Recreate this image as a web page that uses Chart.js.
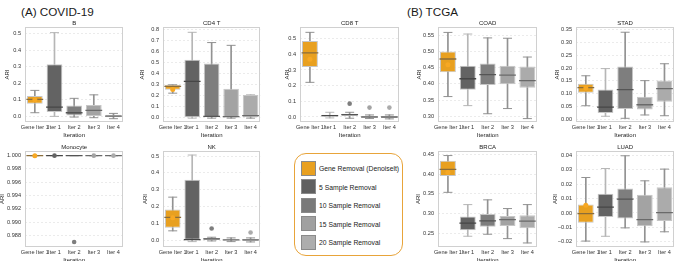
<!DOCTYPE html>
<html><head><meta charset="utf-8">
<script src="https://cdn.jsdelivr.net/npm/chart.js@4.4.0/dist/chart.umd.min.js"></script>
<style>
html,body{margin:0;padding:0;background:#fff}
body{width:685px;height:261px;overflow:hidden;position:relative;font-family:"Liberation Sans",Arial,sans-serif}
.hd{position:absolute;font-size:11.7px;line-height:1;color:#1a1a1a;white-space:nowrap}
#legend{position:absolute;left:294px;top:153px;width:109px;height:103px;border:1.3px solid #E8A43A;border-radius:12px;box-sizing:border-box}
.li{position:absolute;left:6px;height:16px;font-size:6.8px;color:#222;white-space:nowrap}
.sw{position:absolute;left:0;top:0;width:15px;height:15px;border:0.8px solid #8a8a8a;box-sizing:border-box}
.lt{position:absolute;left:18px;top:4.5px;line-height:7px}
</style></head>
<body>
<div class="hd" style="left:21px;top:6px">(A) COVID-19</div>
<div class="hd" style="left:407px;top:6px">(B) TCGA</div>
<div id="legend"></div>
<script>
// ---------- data ----------
const categories = ['Gene Iter 1', 'Iter 1', 'Iter 2', 'Iter 3', 'Iter 4'];
const legendLabels = ['Gene Removal (Denoiselt)', '5 Sample Removal', '10 Sample Removal', '15 Sample Removal', '20 Sample Removal'];

// B
const B_low  = [0.022, 0.000, -0.004, -0.008, -0.014];
const B_q1   = [0.077, 0.026, 0.006, 0.000, -0.006];
const B_med  = [0.103, 0.056, 0.022, 0.036, 0.002];
const B_q3   = [0.123, 0.315, 0.065, 0.069, 0.010];
const B_high = [0.157, 0.506, 0.109, 0.130, 0.018];
const B_mean = [0.100, null, null, null, null];
const B_out  = [];
const B_ticks = ['0.0', '0.1', '0.2', '0.3', '0.4', '0.5'];

// CD4 T
const CD4_low  = [0.222, -0.004, -0.004, -0.004, -0.004];
const CD4_q1   = [0.254, 0.004, 0.000, 0.000, 0.000];
const CD4_med  = [0.284, 0.329, 0.012, 0.009, 0.018];
const CD4_q3   = [0.298, 0.525, 0.490, 0.263, 0.205];
const CD4_high = [0.298, 0.773, 0.680, 0.655, 0.205];
const CD4_mean = [0.255, null, null, null, null];
const CD4_out  = [];
const CD4_ticks = ['0.0', '0.1', '0.2', '0.3', '0.4', '0.5', '0.6', '0.7', '0.8'];

// CD8 T
const CD8_low  = [0.221, -0.006, -0.008, -0.010, -0.012];
const CD8_q1   = [0.319, 0.000, 0.006, -0.004, -0.006];
const CD8_med  = [0.409, 0.009, 0.015, 0.000, 0.000];
const CD8_q3   = [0.485, 0.015, 0.021, 0.006, 0.006];
const CD8_high = [0.540, 0.030, 0.030, 0.013, 0.013];
const CD8_mean = [0.368, null, null, null, null];
const CD8_out  = [['Iter 2', 0.085], ['Iter 3', 0.060], ['Iter 4', 0.060]];
const CD8_ticks = ['0.0', '0.1', '0.2', '0.3', '0.4', '0.5'];

// Monocyte
const MONO_low  = [1.000, 1.000, 1.000, 1.000, 1.000];
const MONO_q1   = [1.000, 1.000, 1.000, 1.000, 1.000];
const MONO_med  = [1.000, 1.000, 1.000, 1.000, 1.000];
const MONO_q3   = [1.000, 1.000, 1.000, 1.000, 1.000];
const MONO_high = [1.000, 1.000, 1.000, 1.000, 1.000];
const MONO_mean = [1.000, null, null, null, null];
const MONO_out  = [['Iter 1', 1.000], ['Iter 2', 0.9870], ['Iter 3', 1.000], ['Iter 4', 1.000]];
const MONO_ticks = ['0.988', '0.990', '0.992', '0.994', '0.996', '0.998', '1.000'];

// NK
const NK_low  = [0.056, -0.008, -0.004, -0.008, -0.010];
const NK_q1   = [0.074, 0.000, 0.002, -0.002, -0.004];
const NK_med  = [0.136, 0.004, 0.008, 0.002, 0.002];
const NK_q3   = [0.182, 0.360, 0.014, 0.006, 0.008];
const NK_high = [0.256, 0.506, 0.018, 0.014, 0.014];
const NK_mean = [0.134, null, null, null, null];
const NK_out  = [['Iter 2', 0.070], ['Iter 4', 0.046]];
const NK_ticks = ['0.0', '0.1', '0.2', '0.3', '0.4', '0.5'];

// COAD
const COAD_low  = [0.361, 0.333, 0.308, 0.324, 0.293];
const COAD_q1   = [0.436, 0.382, 0.397, 0.399, 0.388];
const COAD_med  = [0.477, 0.416, 0.429, 0.427, 0.410];
const COAD_q3   = [0.500, 0.456, 0.463, 0.456, 0.454];
const COAD_high = [0.559, 0.554, 0.542, 0.541, 0.483];
const COAD_mean = [0.459, null, null, null, null];
const COAD_out  = [];
const COAD_ticks = ['0.30', '0.35', '0.40', '0.45', '0.50', '0.55'];

// STAD
const STAD_low  = [0.053, 0.012, 0.004, 0.017, 0.014];
const STAD_q1   = [0.104, 0.025, 0.040, 0.038, 0.069];
const STAD_med  = [0.124, 0.048, 0.116, 0.057, 0.120];
const STAD_q3   = [0.139, 0.116, 0.206, 0.088, 0.152];
const STAD_high = [0.170, 0.198, 0.340, 0.151, 0.217];
const STAD_mean = [0.122, null, null, null, null];
const STAD_out  = [];
const STAD_ticks = ['0.00', '0.05', '0.10', '0.15', '0.20', '0.25', '0.30', '0.35'];

// BRCA
const BRCA_low  = [0.354, 0.243, 0.248, 0.237, 0.226];
const BRCA_q1   = [0.395, 0.258, 0.267, 0.269, 0.263];
const BRCA_med  = [0.412, 0.276, 0.282, 0.285, 0.281];
const BRCA_q3   = [0.434, 0.293, 0.299, 0.294, 0.296];
const BRCA_high = [0.447, 0.323, 0.335, 0.313, 0.323];
const BRCA_mean = [0.404, null, null, null, null];
const BRCA_out  = [];
const BRCA_ticks = ['0.25', '0.30', '0.35', '0.40', '0.45'];

// LUAD
const LUAD_low  = [-0.0194, -0.0161, -0.0103, -0.0200, -0.0130];
const LUAD_q1   = [-0.0067, -0.0027, -0.0039, -0.0092, -0.0055];
const LUAD_med  = [-0.0004, 0.0040, 0.0095, -0.0046, 0.0003];
const LUAD_q3   = [0.0058, 0.0132, 0.0169, 0.0125, 0.0178];
const LUAD_high = [0.0245, 0.0307, 0.0395, 0.0222, 0.0303];
const LUAD_mean = [0.0054, null, null, null, null];
const LUAD_out  = [];
const LUAD_ticks = ['\u22120.02', '\u22120.01', '0.00', '0.01', '0.02', '0.03', '0.04'];

// ---------- styles ----------
const boxColors     = ['#E8A020', '#636363', '#7e7e7e', '#a3a3a3', '#ababab'];
const whiskerColors = ['#929292', '#b6b6b6', '#929292', '#929292', '#929292'];
const medianColors  = ['#8a6d3b', '#464646', '#555555', '#6a6a6a', '#6a6a6a'];
const legendColors  = ['#E8A020', '#606060', '#7a7a7a', '#a0a0a0', '#adadad'];
const meanColor = '#F7A823';

Chart.defaults.font.family = '"Liberation Sans", Arial, sans-serif';

const panels = [
  {title:'B', low:B_low, q1:B_q1, med:B_med, q3:B_q3, high:B_high, mean:B_mean, out:B_out, ticks:B_ticks, min:-0.034, max:0.54, L:25, R:133, T:27, Bt:122, yW:25},
  {title:'CD4 T', low:CD4_low, q1:CD4_q1, med:CD4_med, q3:CD4_q3, high:CD4_high, mean:CD4_mean, out:CD4_out, ticks:CD4_ticks, min:-0.039, max:0.821, L:163, R:270, T:27, Bt:122, yW:28},
  {title:'CD8 T', low:CD8_low, q1:CD8_q1, med:CD8_med, q3:CD8_q3, high:CD8_high, mean:CD8_mean, out:CD8_out, ticks:CD8_ticks, min:-0.032, max:0.574, L:300, R:409, T:27, Bt:122, yW:20},
  {title:'COAD', low:COAD_low, q1:COAD_q1, med:COAD_med, q3:COAD_q3, high:COAD_high, mean:COAD_mean, out:COAD_out, ticks:COAD_ticks, min:0.2825, max:0.5757, L:438, R:547, T:27, Bt:122, yW:26},
  {title:'STAD', low:STAD_low, q1:STAD_q1, med:STAD_med, q3:STAD_q3, high:STAD_high, mean:STAD_mean, out:STAD_out, ticks:STAD_ticks, min:-0.0104, max:0.3604, L:576, R:684, T:27, Bt:122, yW:26},
  {title:'Monocyte', low:MONO_low, q1:MONO_q1, med:MONO_med, q3:MONO_q3, high:MONO_high, mean:MONO_mean, out:MONO_out, ticks:MONO_ticks, min:0.98624, max:1.0007, L:25, R:133, T:151, Bt:247, yW:30},
  {title:'NK', low:NK_low, q1:NK_q1, med:NK_med, q3:NK_q3, high:NK_high, mean:NK_mean, out:NK_out, ticks:NK_ticks, min:-0.04, max:0.53, L:163, R:270, T:151, Bt:247, yW:25},
  {title:'BRCA', low:BRCA_low, q1:BRCA_q1, med:BRCA_med, q3:BRCA_q3, high:BRCA_high, mean:BRCA_mean, out:BRCA_out, ticks:BRCA_ticks, min:0.2158, max:0.4585, L:438, R:547, T:151, Bt:247, yW:27},
  {title:'LUAD', low:LUAD_low, q1:LUAD_q1, med:LUAD_med, q3:LUAD_q3, high:LUAD_high, mean:LUAD_mean, out:LUAD_out, ticks:LUAD_ticks, min:-0.0235, max:0.0428, L:576, R:684, T:151, Bt:247, yW:28}
];

const framePlugin = {
  id: 'frame',
  beforeDatasetsDraw(chart) {
    const a = chart.chartArea, ctx = chart.ctx;
    ctx.save();
    ctx.strokeStyle = '#d0d0d0';
    ctx.lineWidth = 1;
    ctx.strokeRect(Math.round(a.left) + 0.5, Math.round(a.top) + 0.5, Math.round(a.right - a.left) - 1, Math.round(a.bottom - a.top) - 1);
    ctx.restore();
  }
};

const TITLE_H = 12, XAXIS_H = 16;

function makeChart(p) {
  const cv = document.createElement('canvas');
  const w = p.R - p.L + p.yW, h = p.Bt - p.T + TITLE_H + XAXIS_H;
  cv.width = w; cv.height = h;
  cv.style.cssText = 'position:absolute;left:' + (p.L - p.yW) + 'px;top:' + (p.T - TITLE_H) + 'px;width:' + w + 'px;height:' + h + 'px';
  document.body.appendChild(cv);
  const tickVals = p.ticks.map(s => parseFloat(s.replace('\u2212', '-')));
  const outColors = p.out.map(o => boxColors[categories.indexOf(o[0])]);
  new Chart(cv, {
    type: 'bar',
    data: {
      labels: categories,
      datasets: [
        {type:'line', label:'outliers', data:p.out.map(o => ({x:o[0], y:o[1]})), showLine:false,
         pointStyle:'circle', pointRadius:2.3, pointBorderWidth:0, pointBackgroundColor:outColors, order:1},
        {type:'line', label:'mean', data:p.mean, showLine:false, pointStyle:'circle', pointRadius:2.5,
         pointBorderWidth:0, pointBackgroundColor:meanColor, order:0},
        {type:'line', label:'median', data:p.med, showLine:false, pointStyle:'line', pointRadius:8.4,
         pointBorderWidth:1.3, pointBorderColor:medianColors, order:2},
        {type:'bar', label:'box', data:p.q1.map((v, i) => [v, p.q3[i]]), backgroundColor:boxColors,
         borderColor:'#c6c6c6', borderWidth:1, borderSkipped:false, barPercentage:0.8, categoryPercentage:1,
         grouped:false, order:3},
        {type:'line', label:'capLow', data:p.low, showLine:false, pointStyle:'line', pointRadius:4.5,
         pointBorderWidth:1, pointBorderColor:whiskerColors, order:4},
        {type:'line', label:'capHigh', data:p.high, showLine:false, pointStyle:'line', pointRadius:4.5,
         pointBorderWidth:1, pointBorderColor:whiskerColors, order:4},
        {type:'bar', label:'whisker', data:p.low.map((v, i) => [v, p.high[i]]), backgroundColor:whiskerColors,
         borderWidth:0, barThickness:1, grouped:false, order:5}
      ]
    },
    options: {
      responsive:false, animation:false, events:[],
      layout:{padding:0},
      plugins:{
        legend:{display:false}, tooltip:{enabled:false},
        title:{display:true, text:p.title, fullSize:false, color:'#222',
               font:{size:6, weight:'normal', lineHeight:1}, padding:{top:5, bottom:1}}
      },
      scales:{
        x:{
          type:'category', offset:true,
          grid:{display:false, drawTicks:false}, border:{display:false},
          ticks:{autoSkip:false, maxRotation:0, minRotation:0, padding:3, color:'#333', font:{size:5.6, lineHeight:1}},
          title:{display:true, text:'Iteration', color:'#222', font:{size:6, lineHeight:1}, padding:{top:0, bottom:0}},
          afterFit: ax => { ax.height = XAXIS_H; }
        },
        y:{
          type:'linear', min:p.min, max:p.max,
          grid:{color:'#e6e6e6', lineWidth:0.8, drawTicks:false},
          border:{display:false, dash:[2, 2]},
          ticks:{autoSkip:false, padding:4, color:'#333', font:{size:5.6, lineHeight:1},
                 callback:(v, i) => p.ticks[i]},
          afterBuildTicks: ax => { ax.ticks = tickVals.map(v => ({value:v})); },
          title:{display:true, text:'ARI', color:'#222', font:{size:6, lineHeight:1}, padding:{top:4, bottom:0}},
          afterFit: ax => { ax.width = p.yW; }
        }
      }
    },
    plugins:[framePlugin]
  });
}

panels.forEach(makeChart);

// legend (HTML)
const lg = document.getElementById('legend');
legendLabels.forEach((t, i) => {
  const d = document.createElement('div');
  d.className = 'li';
  d.style.top = (6.5 + i * 18.6) + 'px';
  d.innerHTML = '<div class="sw" style="background:' + legendColors[i] + '"></div><div class="lt"></div>';
  d.querySelector('.lt').textContent = t;
  lg.appendChild(d);
});
</script>
</body></html>
